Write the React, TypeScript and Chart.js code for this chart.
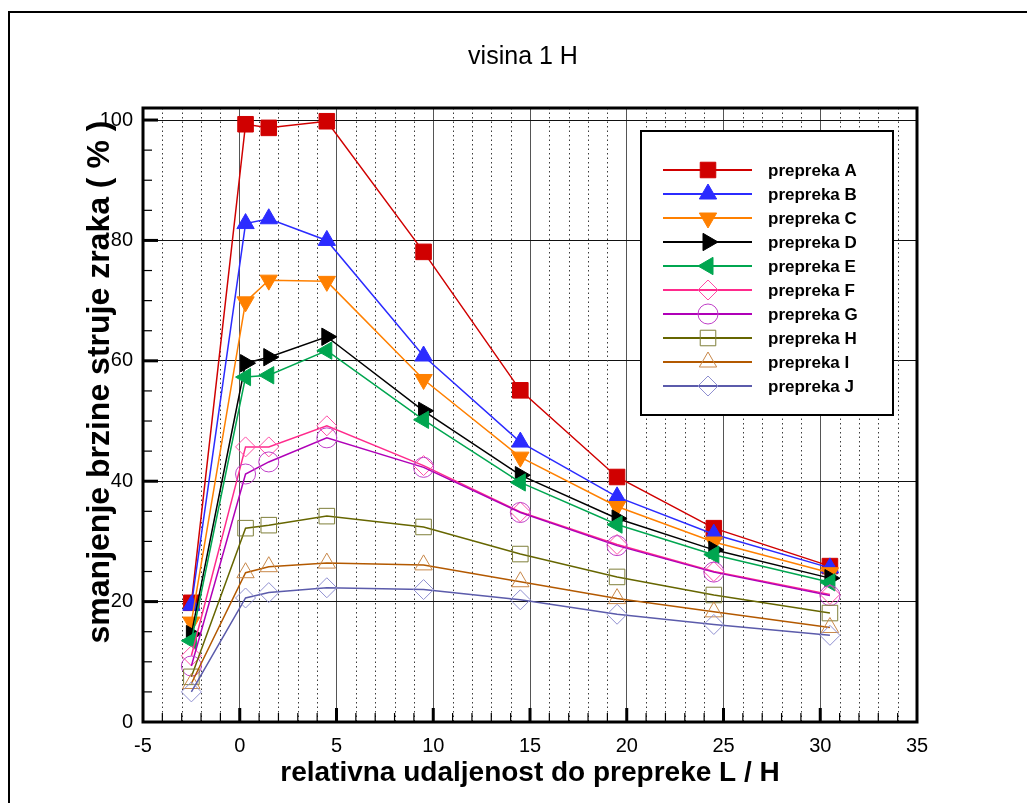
import React, { useEffect, useRef } from "react";
import { Chart, registerables } from "chart.js";

Chart.register(...registerables);

const TITLE = "visina 1 H";
const X_TITLE = "relativna udaljenost do prepreke L / H";
const Y_TITLE = "smanjenje brzine struje zraka ( % )";

const X_VALUES = [-2.5, 0.3, 1.5, 4.5, 9.5, 14.5, 19.5, 24.5, 30.5];
const X_TICKS = [-5, 0, 5, 10, 15, 20, 25, 30, 35];
const Y_TICKS = [0, 20, 40, 60, 80, 100];
const X_MIN = -5;
const X_MAX = 35;
const Y_MIN = 0;
const Y_MAX = 102;

const SERIES_NAMES = [
  "prepreka A",
  "prepreka B",
  "prepreka C",
  "prepreka D",
  "prepreka E",
  "prepreka F",
  "prepreka G",
  "prepreka H",
  "prepreka I",
  "prepreka J",
];

const A = [19.8, 99.3, 98.7, 99.8, 78.1, 55.1, 40.7, 32.2, 25.9];
const B = [19.4, 82.8, 83.6, 80.0, 60.8, 46.5, 37.4, 31.2, 25.6];
const C = [16.6, 69.8, 73.4, 73.2, 56.9, 44.0, 35.8, 29.9, 24.8];
const D = [14.6, 59.6, 60.6, 64.0, 51.7, 41.0, 33.8, 28.6, 23.9];
const E = [13.5, 57.3, 57.6, 61.7, 50.2, 39.8, 32.8, 27.8, 23.2];
const F = [11.0, 45.7, 45.7, 49.2, 42.6, 34.9, 29.5, 25.0, 21.2];
const G = [9.3, 41.2, 43.2, 47.2, 42.3, 34.8, 29.3, 24.9, 21.0];
const H = [7.5, 32.2, 32.7, 34.2, 32.4, 27.9, 24.1, 21.1, 18.1];
const I = [6.4, 24.8, 25.8, 26.4, 26.1, 23.3, 20.5, 18.3, 15.7];
const J = [5.0, 20.6, 21.5, 22.3, 22.0, 20.3, 17.9, 16.2, 14.4];

const SERIES_VALUES = [A, B, C, D, E, F, G, H, I, J];

const LINE_COLORS = ["#d00000", "#2b2bff", "#ff8000", "#000000", "#00a650", "#ff2a8c", "#b000b8", "#666600", "#b35900", "#5b5bab"];
const MARKER_COLORS = ["#d00000", "#2b2bff", "#ff8000", "#000000", "#00a650", "#ff4da6", "#c040c8", "#7f7f3a", "#c8884a", "#8f8fd0"];
const MARKER_FILLED = [true, true, true, true, true, false, false, false, false, false];
const MARKER_STYLES = ["rect", "triangle", "triangle", "triangle", "triangle", "rectRot", "circle", "rect", "triangle", "rectRot"];
const MARKER_ROTATIONS = [0, 0, 180, 90, -90, 0, 0, 0, 0, 0];
const MARKER_RADII = [11, 10, 10, 10, 10, 10, 10, 11, 10, 10];

const FONT = "'Liberation Sans', Arial, Helvetica, sans-serif";

function drawMarker(ctx: CanvasRenderingContext2D, style: string, rotDeg: number, x: number, y: number, r: number, fill: string | null, stroke: string) {
  ctx.save();
  ctx.beginPath();
  const rad = (rotDeg * Math.PI) / 180;
  if (style === "rect") {
    const s = Math.SQRT1_2 * r;
    ctx.rect(x - s, y - s, 2 * s, 2 * s);
  } else if (style === "rectRot") {
    ctx.moveTo(x, y - r);
    ctx.lineTo(x + r, y);
    ctx.lineTo(x, y + r);
    ctx.lineTo(x - r, y);
    ctx.closePath();
  } else if (style === "triangle") {
    let a = rad;
    ctx.moveTo(x + Math.sin(a) * r, y - Math.cos(a) * r);
    a += (2 * Math.PI) / 3;
    ctx.lineTo(x + Math.sin(a) * r, y - Math.cos(a) * r);
    a += (2 * Math.PI) / 3;
    ctx.lineTo(x + Math.sin(a) * r, y - Math.cos(a) * r);
    ctx.closePath();
  } else {
    ctx.arc(x, y, r, 0, Math.PI * 2);
  }
  if (fill) {
    ctx.fillStyle = fill;
    ctx.fill();
  }
  ctx.lineWidth = 1;
  ctx.strokeStyle = stroke;
  ctx.stroke();
  ctx.restore();
}

const decorPlugin = {
  id: "decor",
  beforeDatasetsDraw(chart: any) {
    const { ctx, chartArea: a } = chart;
    const xs = chart.scales.x;
    ctx.save();
    ctx.strokeStyle = "#3a3a3a";
    ctx.lineWidth = 1;
    ctx.setLineDash([1.5, 3]);
    for (let v = X_MIN + 1; v < X_MAX; v += 1) {
      if (v % 5 === 0) continue;
      const px = Math.round(xs.getPixelForValue(v)) + 0.5;
      ctx.beginPath();
      ctx.moveTo(px, a.top);
      ctx.lineTo(px, a.bottom);
      ctx.stroke();
    }
    ctx.restore();
  },
  afterDatasetsDraw(chart: any) {
    const { ctx, chartArea: a } = chart;
    const xs = chart.scales.x;
    const ys = chart.scales.y;
    ctx.save();
    ctx.setLineDash([]);
    ctx.strokeStyle = "#000";
    // inward ticks, x axis
    for (let v = X_MIN + 1; v < X_MAX; v += 1) {
      const major = v % 5 === 0;
      const px = xs.getPixelForValue(v);
      ctx.lineWidth = major ? 3 : 1.2;
      ctx.beginPath();
      ctx.moveTo(px, a.bottom);
      ctx.lineTo(px, a.bottom - (major ? 14 : 9));
      ctx.stroke();
    }
    // inward ticks, y axis
    for (let v = Y_MIN + 5; v < Y_MAX; v += 5) {
      const major = v % 20 === 0;
      const py = ys.getPixelForValue(v);
      ctx.lineWidth = major ? 3 : 1.2;
      ctx.beginPath();
      ctx.moveTo(a.left, py);
      ctx.lineTo(a.left + (major ? 15 : 9), py);
      ctx.stroke();
    }
    // frame
    ctx.lineWidth = 3;
    ctx.strokeRect(a.left, a.top, a.right - a.left, a.bottom - a.top);

    // legend box
    const bx = a.right - 276;
    const by = a.top + 23;
    const bw = 252;
    const bh = 284;
    ctx.fillStyle = "#fff";
    ctx.fillRect(bx, by, bw, bh);
    ctx.lineWidth = 2;
    ctx.strokeStyle = "#000";
    ctx.strokeRect(bx, by, bw, bh);
    chart.data.datasets.forEach((ds: any, i: number) => {
      const ry = by + 39 + i * 24;
      ctx.strokeStyle = ds.borderColor;
      ctx.lineWidth = 2;
      ctx.beginPath();
      ctx.moveTo(bx + 22, ry);
      ctx.lineTo(bx + 111, ry);
      ctx.stroke();
      drawMarker(ctx, ds.pointStyle, ds.pointRotation, bx + 67, ry, ds.pointRadius, MARKER_FILLED[i] ? ds.pointBackgroundColor : null, ds.pointBorderColor);
      ctx.fillStyle = "#000";
      ctx.font = `bold 17px ${FONT}`;
      ctx.textBaseline = "middle";
      ctx.textAlign = "left";
      ctx.fillText(ds.label, bx + 127, ry + 1);
    });
    ctx.restore();
  },
  afterDraw(chart: any) {
    const { ctx, chartArea: a } = chart;
    ctx.save();
    // outer frame
    ctx.fillStyle = "#000";
    ctx.fillRect(8, 11, chart.width, 2);
    ctx.fillRect(8, 11, 2, chart.height);
    // titles
    ctx.textAlign = "center";
    ctx.textBaseline = "middle";
    ctx.font = `25px ${FONT}`;
    ctx.fillText(TITLE, (a.left + a.right) / 2 - 7, 57);
    ctx.font = `bold 28px ${FONT}`;
    ctx.fillText(X_TITLE, (a.left + a.right) / 2, a.bottom + 51);
    ctx.translate(a.left - 43, (a.top + a.bottom) / 2 - 33);
    ctx.rotate(-Math.PI / 2);
    ctx.font = `bold 32px ${FONT}`;
    ctx.fillText(Y_TITLE, 0, 0);
    ctx.restore();
  },
};

export default function App() {
  const ref = useRef<HTMLCanvasElement | null>(null);
  useEffect(() => {
    if (!ref.current) return;
    const datasets = SERIES_NAMES.map((name, i) => ({
      label: name,
      data: X_VALUES.map((x, k) => ({ x, y: SERIES_VALUES[i][k] })),
      borderColor: LINE_COLORS[i],
      borderWidth: 1.5,
      backgroundColor: LINE_COLORS[i],
      pointStyle: MARKER_STYLES[i],
      pointRotation: MARKER_ROTATIONS[i],
      pointRadius: MARKER_RADII[i],
      pointBackgroundColor: MARKER_FILLED[i] ? MARKER_COLORS[i] : "rgba(0,0,0,0)",
      pointBorderColor: MARKER_COLORS[i],
      pointBorderWidth: 1,
      tension: 0,
      fill: false,
      order: SERIES_NAMES.length - i,
    }));
    const chart = new Chart(ref.current, {
      type: "line",
      data: { datasets },
      options: {
        responsive: false,
        animation: false,
        events: [],
        devicePixelRatio: 1,
        layout: { padding: { top: 108, right: 110, bottom: 0, left: 0 } },
        plugins: { legend: { display: false }, tooltip: { enabled: false }, title: { display: false } },
        scales: {
          x: {
            type: "linear",
            min: X_MIN,
            max: X_MAX,
            afterBuildTicks: (s: any) => {
              s.ticks = X_TICKS.map((v) => ({ value: v }));
            },
            afterFit: (s: any) => {
              s.height = 81;
            },
            grid: { color: "#555", lineWidth: 1, drawTicks: false },
            border: { display: false },
            ticks: { color: "#000", font: { family: FONT, size: 20 }, padding: 12, maxRotation: 0 },
          },
          y: {
            type: "linear",
            min: Y_MIN,
            max: Y_MAX,
            afterBuildTicks: (s: any) => {
              s.ticks = Y_TICKS.map((v) => ({ value: v }));
            },
            afterFit: (s: any) => {
              s.width = 143;
            },
            grid: { color: "#111", lineWidth: 1, drawTicks: false },
            border: { display: false },
            ticks: { color: "#000", font: { family: FONT, size: 20 }, padding: 10 },
          },
        },
      },
      plugins: [decorPlugin],
    } as any);
    return () => chart.destroy();
  }, []);
  return (
    <div style={{ position: "fixed", left: 0, top: 0, width: 1027, height: 803, background: "#fff" }}>
      <canvas ref={ref} width={1027} height={803} style={{ display: "block" }} />
    </div>
  );
}
